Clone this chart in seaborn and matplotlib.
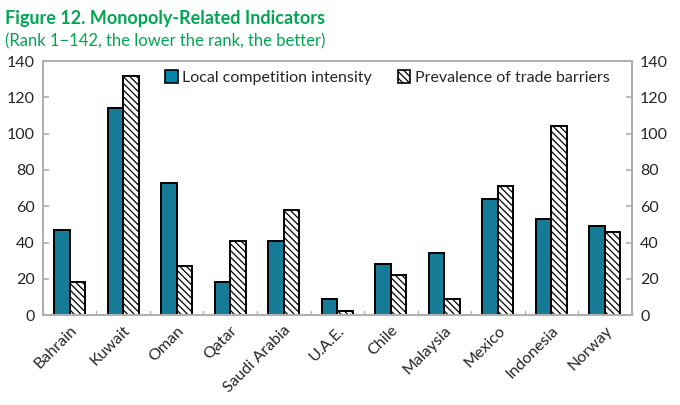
import pandas as pd
import matplotlib.pyplot as plt
import seaborn as sns
from matplotlib.patches import Patch

countries = ["Bahrain", "Kuwait", "Oman", "Qatar", "Saudi Arabia", "U.A.E.",
             "Chile", "Malaysia", "Mexico", "Indonesia", "Norway"]
local_competition = [47, 114, 73, 18, 41, 9, 28, 34, 64, 53, 49]
trade_barriers = [18, 132, 27, 41, 58, 2, 22, 9, 71, 104, 46]
series_names = ["Local competition intensity", "Prevalence of trade barriers"]

df = pd.DataFrame({
    "country": countries * 2,
    "rank": local_competition + trade_barriers,
    "series": [series_names[0]] * len(countries) + [series_names[1]] * len(countries),
})

sns.set_theme(style="white")
plt.rcParams["font.family"] = ["Lato", "DejaVu Sans"]
plt.rcParams["hatch.color"] = "#444444"
plt.rcParams["hatch.linewidth"] = 0.9

fig = plt.figure(figsize=(6.8, 4.05), dpi=100)
ax = fig.add_axes([0.063, 0.222, 0.866, 0.627])

sns.barplot(
    data=df, x="country", y="rank", hue="series",
    palette=["#0087AB", "white"], width=0.58, gap=0,
    edgecolor="black", linewidth=1.4, ax=ax, legend=False,
)

n = len(countries)
for i, bar in enumerate(ax.patches[:2 * n]):
    if i >= n:
        bar.set_hatch("\\\\\\\\\\")

ax.set_ylim(0, 140)
ax.set_xlim(-0.5, n - 0.5)
ax.set_yticks(range(0, 141, 20))
ax.set_xlabel("")
ax.set_ylabel("")
for s in ax.spines.values():
    s.set_color("#b0b0b0")
    s.set_linewidth(1.5)

ax.tick_params(axis="y", direction="in", length=4, color="#b0b0b0", labelsize=11.5, pad=6)
ax.set_xticks(range(n))
ax.set_xticklabels(countries, rotation=45, ha="right", rotation_mode="anchor", fontsize=11.5)
ax.tick_params(axis="x", length=0, pad=6)
for k in range(n + 1):
    ax.plot([k - 0.5, k - 0.5], [0, 2.5], color="#b0b0b0", lw=1, clip_on=False)

ax2 = ax.twinx()
ax2.set_ylim(0, 140)
ax2.set_yticks(range(0, 141, 20))
ax2.tick_params(axis="y", direction="in", length=4, color="#b0b0b0", labelsize=11.5, pad=6)
for s in ax2.spines.values():
    s.set_visible(False)

handles = [
    Patch(facecolor="#0087AB", edgecolor="black", linewidth=1.2),
    Patch(facecolor="white", edgecolor="black", linewidth=1.2, hatch="\\\\\\\\\\"),
]
ax.legend(handles, series_names, loc="upper center", bbox_to_anchor=(0.585, 1.02),
          ncol=2, frameon=False, fontsize=11.5, handlelength=0.8, handleheight=0.8,
          handletextpad=0.3, columnspacing=1.6)

fig.text(0.008, 0.955, "Figure 12. Monopoly-Related Indicators", color="#00A651",
         fontsize=13, fontweight="bold", va="center")
fig.text(0.008, 0.897, "(Rank 1\u2212142, the lower the rank, the better)", color="#00A651",
         fontsize=12, va="center")

fig.savefig("out.png", dpi=100)
